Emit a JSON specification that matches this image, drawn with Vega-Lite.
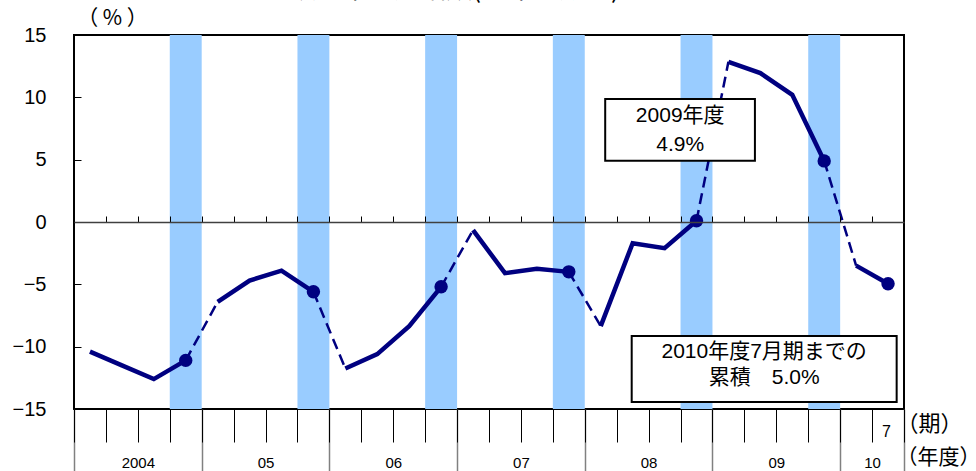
{
  "$schema": "https://vega.github.io/schema/vega-lite/v6.json",
  "width": 830,
  "height": 374,
  "autosize": {"type": "none"},
  "padding": {"left": 74, "top": 35, "right": 72, "bottom": 62},
  "background": "white",
  "config": {
    "view": {"stroke": "black", "strokeWidth": 2},
    "font": "Liberation Sans",
    "axis": {"grid": false, "labelColor": "black", "titleColor": "black"}
  },
  "title": {
    "text": "鉱工業生産指数(前年同期比)",
    "fontSize": 26,
    "font": "Noto Sans CJK JP",
    "fontWeight": "normal",
    "anchor": "middle",
    "frame": "group",
    "dx": -34,
    "dy": -4,
    "offset": 0,
    "color": "black"
  },
  "datasets": {
    "pts": [
      {"period": 0, "v": -10.4, "fy": 2004},
      {"period": 1, "v": -11.5, "fy": 2004},
      {"period": 2, "v": -12.6, "fy": 2004},
      {"period": 3, "v": -11.1, "fy": 2004},
      {"period": 4, "v": -6.4, "fy": 2005},
      {"period": 5, "v": -4.7, "fy": 2005},
      {"period": 6, "v": -3.9, "fy": 2005},
      {"period": 7, "v": -5.6, "fy": 2005},
      {"period": 8, "v": -11.75, "fy": 2006},
      {"period": 9, "v": -10.6, "fy": 2006},
      {"period": 10, "v": -8.35, "fy": 2006},
      {"period": 11, "v": -5.2, "fy": 2006},
      {"period": 12, "v": -0.65, "fy": 2007},
      {"period": 13, "v": -4.1, "fy": 2007},
      {"period": 14, "v": -3.75, "fy": 2007},
      {"period": 15, "v": -4.0, "fy": 2007},
      {"period": 16, "v": -8.35, "fy": 2008},
      {"period": 17, "v": -1.7, "fy": 2008},
      {"period": 18, "v": -2.1, "fy": 2008},
      {"period": 19, "v": 0.1, "fy": 2008},
      {"period": 20, "v": 12.85, "fy": 2009},
      {"period": 21, "v": 11.95, "fy": 2009},
      {"period": 22, "v": 10.2, "fy": 2009},
      {"period": 23, "v": 4.9, "fy": 2009},
      {"period": 24, "v": -3.5, "fy": 2010},
      {"period": 25, "v": -4.95, "fy": 2010}
    ],
    "dashed": [
      {"seg": 1, "period": 3, "v": -11.1},
      {"seg": 1, "period": 4, "v": -6.4},
      {"seg": 2, "period": 7, "v": -5.6},
      {"seg": 2, "period": 8, "v": -11.75},
      {"seg": 3, "period": 11, "v": -5.2},
      {"seg": 3, "period": 12, "v": -0.65},
      {"seg": 4, "period": 15, "v": -4.0},
      {"seg": 4, "period": 16, "v": -8.35},
      {"seg": 5, "period": 19, "v": 0.1},
      {"seg": 5, "period": 20, "v": 12.85},
      {"seg": 6, "period": 23, "v": 4.9},
      {"seg": 6, "period": 24, "v": -3.5}
    ],
    "bands": [
      {"start": 2.5, "end": 3.5},
      {"start": 6.5, "end": 7.5},
      {"start": 10.5, "end": 11.5},
      {"start": 14.5, "end": 15.5},
      {"start": 18.5, "end": 19.5},
      {"start": 22.5, "end": 23.5}
    ],
    "boxes": [
      {"x1": 16.14, "x2": 20.83, "y1": 9.87, "y2": 4.92},
      {"x1": 16.97, "x2": 25.27, "y1": -9.14, "y2": -14.44}
    ],
    "notes": [
      {"x": 18.49, "y": 8.5, "text": "2009年度"},
      {"x": 18.49, "y": 6.2, "text": "4.9%"},
      {"x": 21.12, "y": -10.4, "text": "2010年度7月期までの"},
      {"x": 21.12, "y": -12.5, "text": "累積　5.0%"}
    ]
  },
  "layer": [
    {
      "data": {"name": "bands"},
      "mark": {"type": "rect", "color": "#99CCFF"},
      "encoding": {
        "x": {
          "field": "start", "type": "quantitative",
          "scale": {"domain": [-0.5, 25.5], "nice": false, "zero": false},
          "axis": {
            "orient": "bottom",
            "values": [-0.5, 3.5, 7.5, 11.5, 15.5, 19.5, 23.5, 25.5],
            "tickSize": 62, "tickColor": "#808080", "tickWidth": 1.5,
            "labels": false, "domain": false,
            "title": "（年度）", "titleX": 822, "titleY": 48,
            "titleAlign": "left", "titleBaseline": "middle",
            "titleFontSize": 21, "titleFont": "Noto Sans CJK JP", "titleFontWeight": "normal"
          }
        },
        "x2": {"field": "end"}
      }
    },
    {
      "data": {"name": "pts"},
      "mark": {"type": "line", "color": "#000080", "strokeWidth": 4.5},
      "encoding": {
        "x": {
          "field": "period", "type": "quantitative",
          "scale": {"domain": [-0.5, 25.5], "nice": false, "zero": false},
          "axis": {
            "orient": "bottom",
            "values": [-0.5, 0.5, 1.5, 2.5, 3.5, 4.5, 5.5, 6.5, 7.5, 8.5, 9.5, 10.5, 11.5, 12.5, 13.5, 14.5, 15.5, 16.5, 17.5, 18.5, 19.5, 20.5, 21.5, 22.5, 23.5, 24.5, 25.5],
            "tickSize": 33, "tickColor": "black", "tickWidth": 1,
            "domain": false,
            "labelExpr": "datum.value == 25.5 ? '7' : ''",
            "labelAlign": "center", "labelOffset": -18, "labelPadding": -11,
            "labelBaseline": "middle", "labelFontSize": 16,
            "labelFlush": false, "labelOverlap": false,
            "title": "（期）", "titleX": 822, "titleY": 14,
            "titleAlign": "left", "titleBaseline": "middle",
            "titleFontSize": 22, "titleFont": "Noto Sans CJK JP", "titleFontWeight": "normal"
          }
        },
        "y": {
          "field": "v", "type": "quantitative",
          "scale": {"domain": [-15, 15], "nice": false, "zero": false},
          "axis": {
            "values": [-15, -10, -5, 0, 5, 10, 15],
            "tickSize": -7, "tickColor": "black", "tickWidth": 1,
            "domain": false,
            "labelFontSize": 20, "labelPadding": 35,
            "title": "（ % ）", "titleAngle": 0, "titleX": 38, "titleY": -17,
            "titleAlign": "center", "titleBaseline": "middle",
            "titleFontSize": 21, "titleFont": "Noto Sans CJK JP", "titleFontWeight": "normal"
          }
        },
        "detail": {"field": "fy"}
      }
    },
    {
      "data": {"name": "dashed"},
      "mark": {"type": "line", "color": "#000080", "strokeWidth": 2.5, "strokeDash": [11, 6]},
      "encoding": {
        "x": {
          "field": "period", "type": "quantitative",
          "scale": {"domain": [-0.5, 25.5], "nice": false, "zero": false},
          "axis": {
            "orient": "top", "offset": -187, "zindex": 1,
            "values": [0.5, 1.5, 2.5, 3.5, 4.5, 5.5, 6.5, 7.5, 8.5, 9.5, 10.5, 11.5, 12.5, 13.5, 14.5, 15.5, 16.5, 17.5, 18.5, 19.5, 20.5, 21.5, 22.5, 23.5, 24.5],
            "tickSize": 6, "tickColor": "black", "tickWidth": 1,
            "domain": true, "domainColor": "#404040", "domainWidth": 1.5,
            "labels": false, "title": null
          }
        },
        "y": {"field": "v", "type": "quantitative", "scale": {"domain": [-15, 15], "nice": false, "zero": false}, "axis": null},
        "detail": {"field": "seg"}
      }
    },
    {
      "data": {"name": "pts"},
      "transform": [{"filter": {"field": "period", "oneOf": [3, 7, 11, 15, 19, 23, 25]}}],
      "mark": {"type": "point", "filled": true, "size": 180, "color": "#000080", "opacity": 1},
      "encoding": {
        "x": {
          "field": "period", "type": "quantitative",
          "scale": {"domain": [-0.5, 25.5], "nice": false, "zero": false},
          "axis": {
            "orient": "bottom",
            "values": [1.5, 5.5, 9.5, 13.5, 17.5, 21.5, 24.5],
            "labelExpr": "['2004','05','06','07','08','09','10'][indexof([1.5,5.5,9.5,13.5,17.5,21.5,24.5], datum.value)]",
            "ticks": false, "tickSize": 0, "domain": false,
            "labelPadding": 53, "labelBaseline": "middle", "labelFontSize": 15,
            "labelFlush": false, "labelOverlap": false,
            "title": null
          }
        },
        "y": {"field": "v", "type": "quantitative", "scale": {"domain": [-15, 15], "nice": false, "zero": false}, "axis": null}
      }
    },
    {
      "data": {"name": "boxes"},
      "mark": {"type": "rect", "fill": "white", "stroke": "black", "strokeWidth": 2},
      "encoding": {
        "x": {"field": "x1", "type": "quantitative", "scale": {"domain": [-0.5, 25.5], "nice": false, "zero": false}, "axis": null},
        "x2": {"field": "x2"},
        "y": {"field": "y1", "type": "quantitative", "scale": {"domain": [-15, 15], "nice": false, "zero": false}, "axis": null},
        "y2": {"field": "y2"}
      }
    },
    {
      "data": {"name": "notes"},
      "mark": {"type": "text", "fontSize": 21, "font": "Liberation Sans, Noto Sans CJK JP", "color": "black", "align": "center", "baseline": "middle"},
      "encoding": {
        "x": {"field": "x", "type": "quantitative", "scale": {"domain": [-0.5, 25.5], "nice": false, "zero": false}, "axis": null},
        "y": {"field": "y", "type": "quantitative", "scale": {"domain": [-15, 15], "nice": false, "zero": false}, "axis": null},
        "text": {"field": "text"}
      }
    }
  ],
  "resolve": {"axis": {"x": "independent", "y": "independent"}}
}
